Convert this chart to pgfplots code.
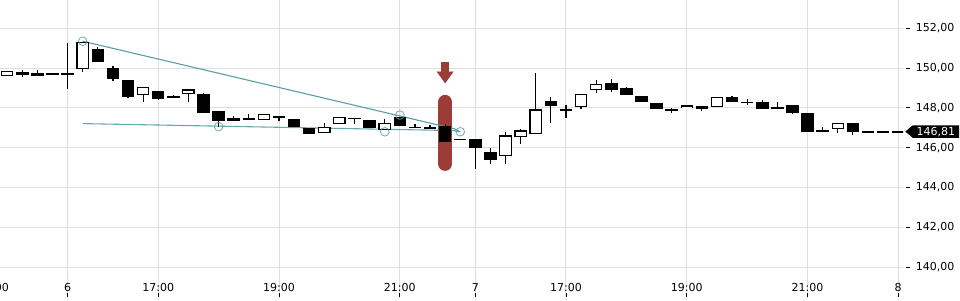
\documentclass[border=0pt]{standalone}
\usepackage{pgfplots}
\pgfplotsset{compat=1.18}
\usepackage{pgfplotstable}
\usepackage{fontspec}
\setmainfont{DejaVu Sans}
\usetikzlibrary{shapes.symbols}
\definecolor{gridgray}{RGB}{222,222,222}
\definecolor{hlred}{RGB}{155,60,54}
\definecolor{trend}{RGB}{88,158,163}

\pgfplotstableread{
i o h l c
0 149.59 149.84 149.59 149.84
1 149.80 149.90 149.57 149.67
2 149.77 149.90 149.62 149.62
3 149.70 149.70 149.70 149.70
4 149.70 151.25 148.93 149.70
5 149.94 151.30 149.80 151.30
6 150.96 151.08 150.31 150.31
7 149.99 150.11 149.37 149.47
8 149.39 149.39 148.51 148.56
9 148.63 149.04 148.28 149.04
10 148.83 148.83 148.38 148.46
11 148.60 148.63 148.51 148.51
12 148.68 148.93 148.28 148.93
13 148.70 148.75 147.76 147.76
14 147.84 147.84 147.06 147.34
15 147.36 147.59 147.36 147.48
16 147.49 147.69 147.38 147.38
17 147.38 147.69 147.38 147.69
18 147.59 147.59 147.36 147.48
19 147.44 147.44 147.05 147.05
20 147.00 147.00 146.70 146.70
21 146.75 147.24 146.75 147.04
22 147.18 147.53 147.18 147.53
23 147.48 147.48 147.21 147.47
24 147.38 147.38 147.00 147.00
25 146.87 147.43 146.87 147.24
26 147.54 147.54 147.11 147.11
27 147.03 147.19 147.03 147.03
28 147.04 147.16 146.94 146.94
29 147.09 147.21 146.30 146.30
30 146.42 146.42 146.42 146.42
31 146.44 146.44 144.95 145.97
32 145.77 145.97 145.17 145.38
33 145.57 146.79 145.20 146.62
34 146.52 146.94 146.20 146.87
35 146.67 149.74 146.67 147.93
36 148.33 148.53 147.26 148.11
37 147.83 148.15 147.51 147.93
38 148.03 148.70 147.96 148.70
39 148.88 149.39 148.76 149.19
40 149.24 149.45 148.81 148.91
41 148.98 149.04 148.66 148.66
42 148.60 148.60 148.31 148.31
43 148.25 148.25 147.96 147.96
44 147.89 147.98 147.73 147.89
45 147.98 148.13 147.98 148.13
46 148.08 148.08 147.86 147.96
47 148.03 148.55 148.03 148.55
48 148.53 148.60 148.31 148.31
49 148.28 148.46 148.16 148.28
50 148.28 148.38 147.96 147.96
51 147.99 148.28 147.99 147.99
52 148.15 148.15 147.68 147.73
53 147.74 147.74 146.80 146.80
54 146.89 147.04 146.80 146.80
55 146.92 147.24 146.75 147.24
56 147.26 147.26 146.65 146.77
57 146.81 146.81 146.81 146.81
58 146.81 146.81 146.81 146.81
59 146.81 146.81 146.81 146.81
}\candles

\begin{document}
\begin{tikzpicture}
\useasboundingbox (0,0) rectangle (960pt,300pt);
\begin{axis}[
  at={(0pt,300pt)}, anchor=north west,
  scale only axis, width=903pt, height=297pt,
  xmin=-0.4768, xmax=59.32, ymin=138.497, ymax=153.422,
  axis line style={draw=none},
  xtick={4,10,18,26,31,37,45,53,59},
  xticklabels={6,17:00,19:00,21:00,7,17:00,19:00,21:00,8},
  ytick={140,142,...,152},
  yticklabels={{140,00},{142,00},{144,00},{146,00},{148,00},{150,00},{152,00}},
  xtick pos=bottom, ytick pos=right, yticklabel pos=right,
  grid=major, major grid style={gridgray, line width=1pt},
  tick align=inside, major tick length=4pt,
  tick style={black, line width=0.9pt},
  ytick style={xshift=7pt},
  xticklabel style={anchor=base, yshift=6pt, font=\fontsize{11}{13}\selectfont},
  yticklabel style={anchor=west, xshift=9.3pt, font=\fontsize{11}{13}\selectfont},
  extra x ticks={-0.47}, extra x tick labels={21:00},
  extra x tick style={grid=none, major tick length=0pt, xticklabel style={xshift=-7pt}},
  extra y ticks={146.81}, extra y tick labels={146{,}81},
  extra y tick style={grid=none, major tick length=0pt,
    yticklabel style={xshift=-7.3pt, fill=black, text=white, shape=signal, signal to=west,
      signal pointer angle=80, inner xsep=4pt, inner ysep=1.5pt, minimum height=11pt}},
  candle/.style={draw=none, mark=none, forget plot, error bars/.cd, y dir=both, y explicit, error mark=none},
]
% highlight
\addplot [candle, error bar style={draw=hlred, line width=14.5pt, line cap=round}]
  coordinates {(29,146.745) +- (0,1.545)};
% arrow shaft and head
\addplot [candle, error bar style={draw=hlred, line width=8.6pt}]
  coordinates {(29,150.065) +- (0,0.245)};
\addplot [only marks, mark=triangle*, mark size=9.64pt,
  mark options={fill=hlred, draw=hlred, line width=0.1pt, yscale=0.8, rotate=180}]
  coordinates {(29,149.63)};
% trend lines
\addplot [trend, line width=1.1pt, mark=none] coordinates {(5,151.35) (29.6,146.95) (30,146.80)};
\addplot [trend, line width=1.1pt, mark=none, opacity=0.9] coordinates {(5,147.21) (29.6,146.86) (30,146.80)};
\addplot [only marks, mark=o, mark size=4.3pt, mark options={draw=trend, line width=0.9pt, fill=none, opacity=0.8}]
  coordinates {(5,151.35) (14,147.06) (25,146.80) (26,147.64) (30,146.80)};
% wicks
\addplot [candle, error bar style={draw=black, line width=1.2pt}]
  table [x=i, y expr={(\thisrow{h}+\thisrow{l})/2}, y error expr={(\thisrow{h}-\thisrow{l})/2}] {\candles};
% bodies
\addplot [candle, error bar style={draw=black, line width=12.5pt}]
  table [x=i, y expr={(\thisrow{o}+\thisrow{c})/2}, y error expr={max(abs(\thisrow{c}-\thisrow{o})/2,0.035)}] {\candles};
\addplot [candle, error bar style={draw=white, line width=10.1pt}]
  table [x=i, y expr={(\thisrow{o}+\thisrow{c})/2}, y error expr={(\thisrow{c}>\thisrow{o}) ? max((\thisrow{c}-\thisrow{o})/2-0.06,0) : 0}] {\candles};
\end{axis}
\end{tikzpicture}
\end{document}
